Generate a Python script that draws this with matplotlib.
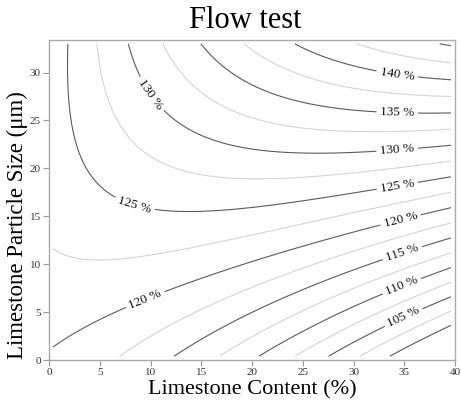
import numpy as np
import matplotlib.pyplot as plt

plt.rcParams["font.family"] = ["Liberation Serif", "DejaVu Serif"]

# contour crossings: x = limestone content (%), y = particle size (um)
top_x = [1.7, 4.7, 7.9, 11.4, 15.1, 19.3, 24.2, 30.1, 38.7]
top_lv = [125, 127.5, 130, 132.5, 135, 137.5, 140, 142.5, 145]

right_y = [3.75, 5.0, 6.6, 8.0, 9.55, 11.0, 12.7, 14.2, 15.9, 17.4,
           19.1, 20.7, 22.3, 24.1, 25.9, 27.6, 29.2, 31.0, 32.9]
right_lv = [100, 102.5, 105, 107.5, 110, 112.5, 115, 117.5, 120, 122.5,
            125, 127.5, 130, 132.5, 135, 137.5, 140, 142.5, 145]

bottom_x = [6.8, 12.2, 16.7, 20.7, 24.4, 27.7, 31.0, 33.8]
bottom_lv = [117.5, 115, 112.5, 110, 107.5, 105, 102.5, 100]

inner_x = [0.4, 5.7, 9.5, 11.4, 14.9, 20.8, 24.7, 34.6,
           0.4, 4.0, 10.0, 20.8, 24.7,
           2.2, 3.4, 5.7, 8.5, 10.6, 14.9, 20.8, 32.3, 34.3,
           6.7, 9.0, 12.25, 20.8, 24.7,
           10.0, 11.3, 15.5, 20.8, 24.7, 32.3,
           15.5, 20.8, 24.7,
           19.8, 24.7, 32.3, 34.3,
           19.8, 24.7,
           32.3, 34.3,
           10.0, 12.2, 20.8, 24.7,
           12.1, 17.5, 20.8, 24.7, 34.7,
           24.7,
           24.7, 34.6,
           34.6]
inner_y = [1.0, 5.2, 6.3, 7.3, 8.1, 10.4, 11.6, 14.75,
           10.8, 10.3, 11.2, 13.4, 14.06,
           24.0, 19.8, 17.7, 16.4, 15.8, 15.4, 15.9, 18.05, 18.3,
           25.7, 22.2, 19.8, 19.1, 19.0,
           27.7, 26.0, 23.6, 21.9, 21.6, 21.8,
           29.2, 25.0, 24.2,
           28.8, 26.9, 26.0, 25.8,
           30.9, 29.7,
           30.0, 29.9,
           2.4, 4.2, 7.8, 8.85,
           0.5, 3.4, 5.2, 7.1, 11.5,
           4.85,
           2.95, 8.3,
           5.2]
inner_lv = [120] * 8 + [122.5] * 5 + [125] * 9 + [127.5] * 5 + [130] * 6 + \
           [132.5] * 3 + [135] * 4 + [137.5] * 2 + [140] * 2 + [117.5] * 4 + \
           [115] * 5 + [112.5] + [110] * 2 + [105]

major_levels = [100, 105, 110, 115, 120, 125, 130, 135, 140, 145]
minor_levels = [102.5, 107.5, 112.5, 117.5, 122.5, 127.5, 132.5, 137.5, 142.5]

label_pos = [(9.5, 6.3), (8.5, 16.4), (10.0, 27.7),
             (34.3, 29.9), (34.3, 25.8), (34.3, 21.9), (34.3, 18.3),
             (34.6, 14.75), (34.7, 11.5), (34.5, 8.4), (34.6, 5.2)]

# fit a cubic response surface through the read crossings
px = np.concatenate([top_x, np.full(len(right_y), 39.7), bottom_x, inner_x])
py = np.concatenate([np.full(len(top_x), 33.0), right_y, np.full(len(bottom_x), 0.4), inner_y])
pv = np.concatenate([top_lv, right_lv, bottom_lv, inner_lv])


def terms(x, y):
    u = x / 40.0
    v = y / 33.0
    return np.stack([np.ones_like(u), u, v, u * u, u * v, v * v,
                     u ** 3, u * u * v, u * v * v, v ** 3], axis=-1)


coef, *_ = np.linalg.lstsq(terms(px, py), pv, rcond=None)

gx, gy = np.meshgrid(np.linspace(0.4, 39.6, 300), np.linspace(0.4, 33.0, 300))
gz = terms(gx, gy) @ coef

fig = plt.figure(figsize=(4.61, 4.04), dpi=100)
ax = fig.add_axes([0.1063, 0.1089, 0.8807, 0.7921])

ax.contour(gx, gy, gz, levels=minor_levels, colors="#d4d4d4", linewidths=0.8)
cs = ax.contour(gx, gy, gz, levels=major_levels, colors="#5a5a5a", linewidths=0.8)
ax.clabel(cs, fmt=lambda v: "%d %%" % v, manual=label_pos, fontsize=9.5,
          colors="#111111", inline=True, inline_spacing=4)

ax.set_xlim(0, 40)
ax.set_ylim(0, 33.4)
ax.set_xticks(np.arange(0, 41, 5))
ax.set_yticks(np.arange(0, 31, 5))
ax.tick_params(direction="out", length=4, width=0.8, color="#999999",
               labelsize=8, labelcolor="#333333", pad=2)
for s in ax.spines.values():
    s.set_color("#aaaaaa")
    s.set_linewidth(1.0)

ax.set_xlabel("Limestone Content (%)", fontsize=16, labelpad=2)
fig.text(0.037, 0.443, "Limestone Particle Size (\u03bcm)", rotation=90,
         fontsize=16.5, ha="center", va="center")
fig.text(0.531, 0.931, "Flow test", fontsize=22, ha="center", va="baseline")

fig.savefig("out.png", dpi=100)
